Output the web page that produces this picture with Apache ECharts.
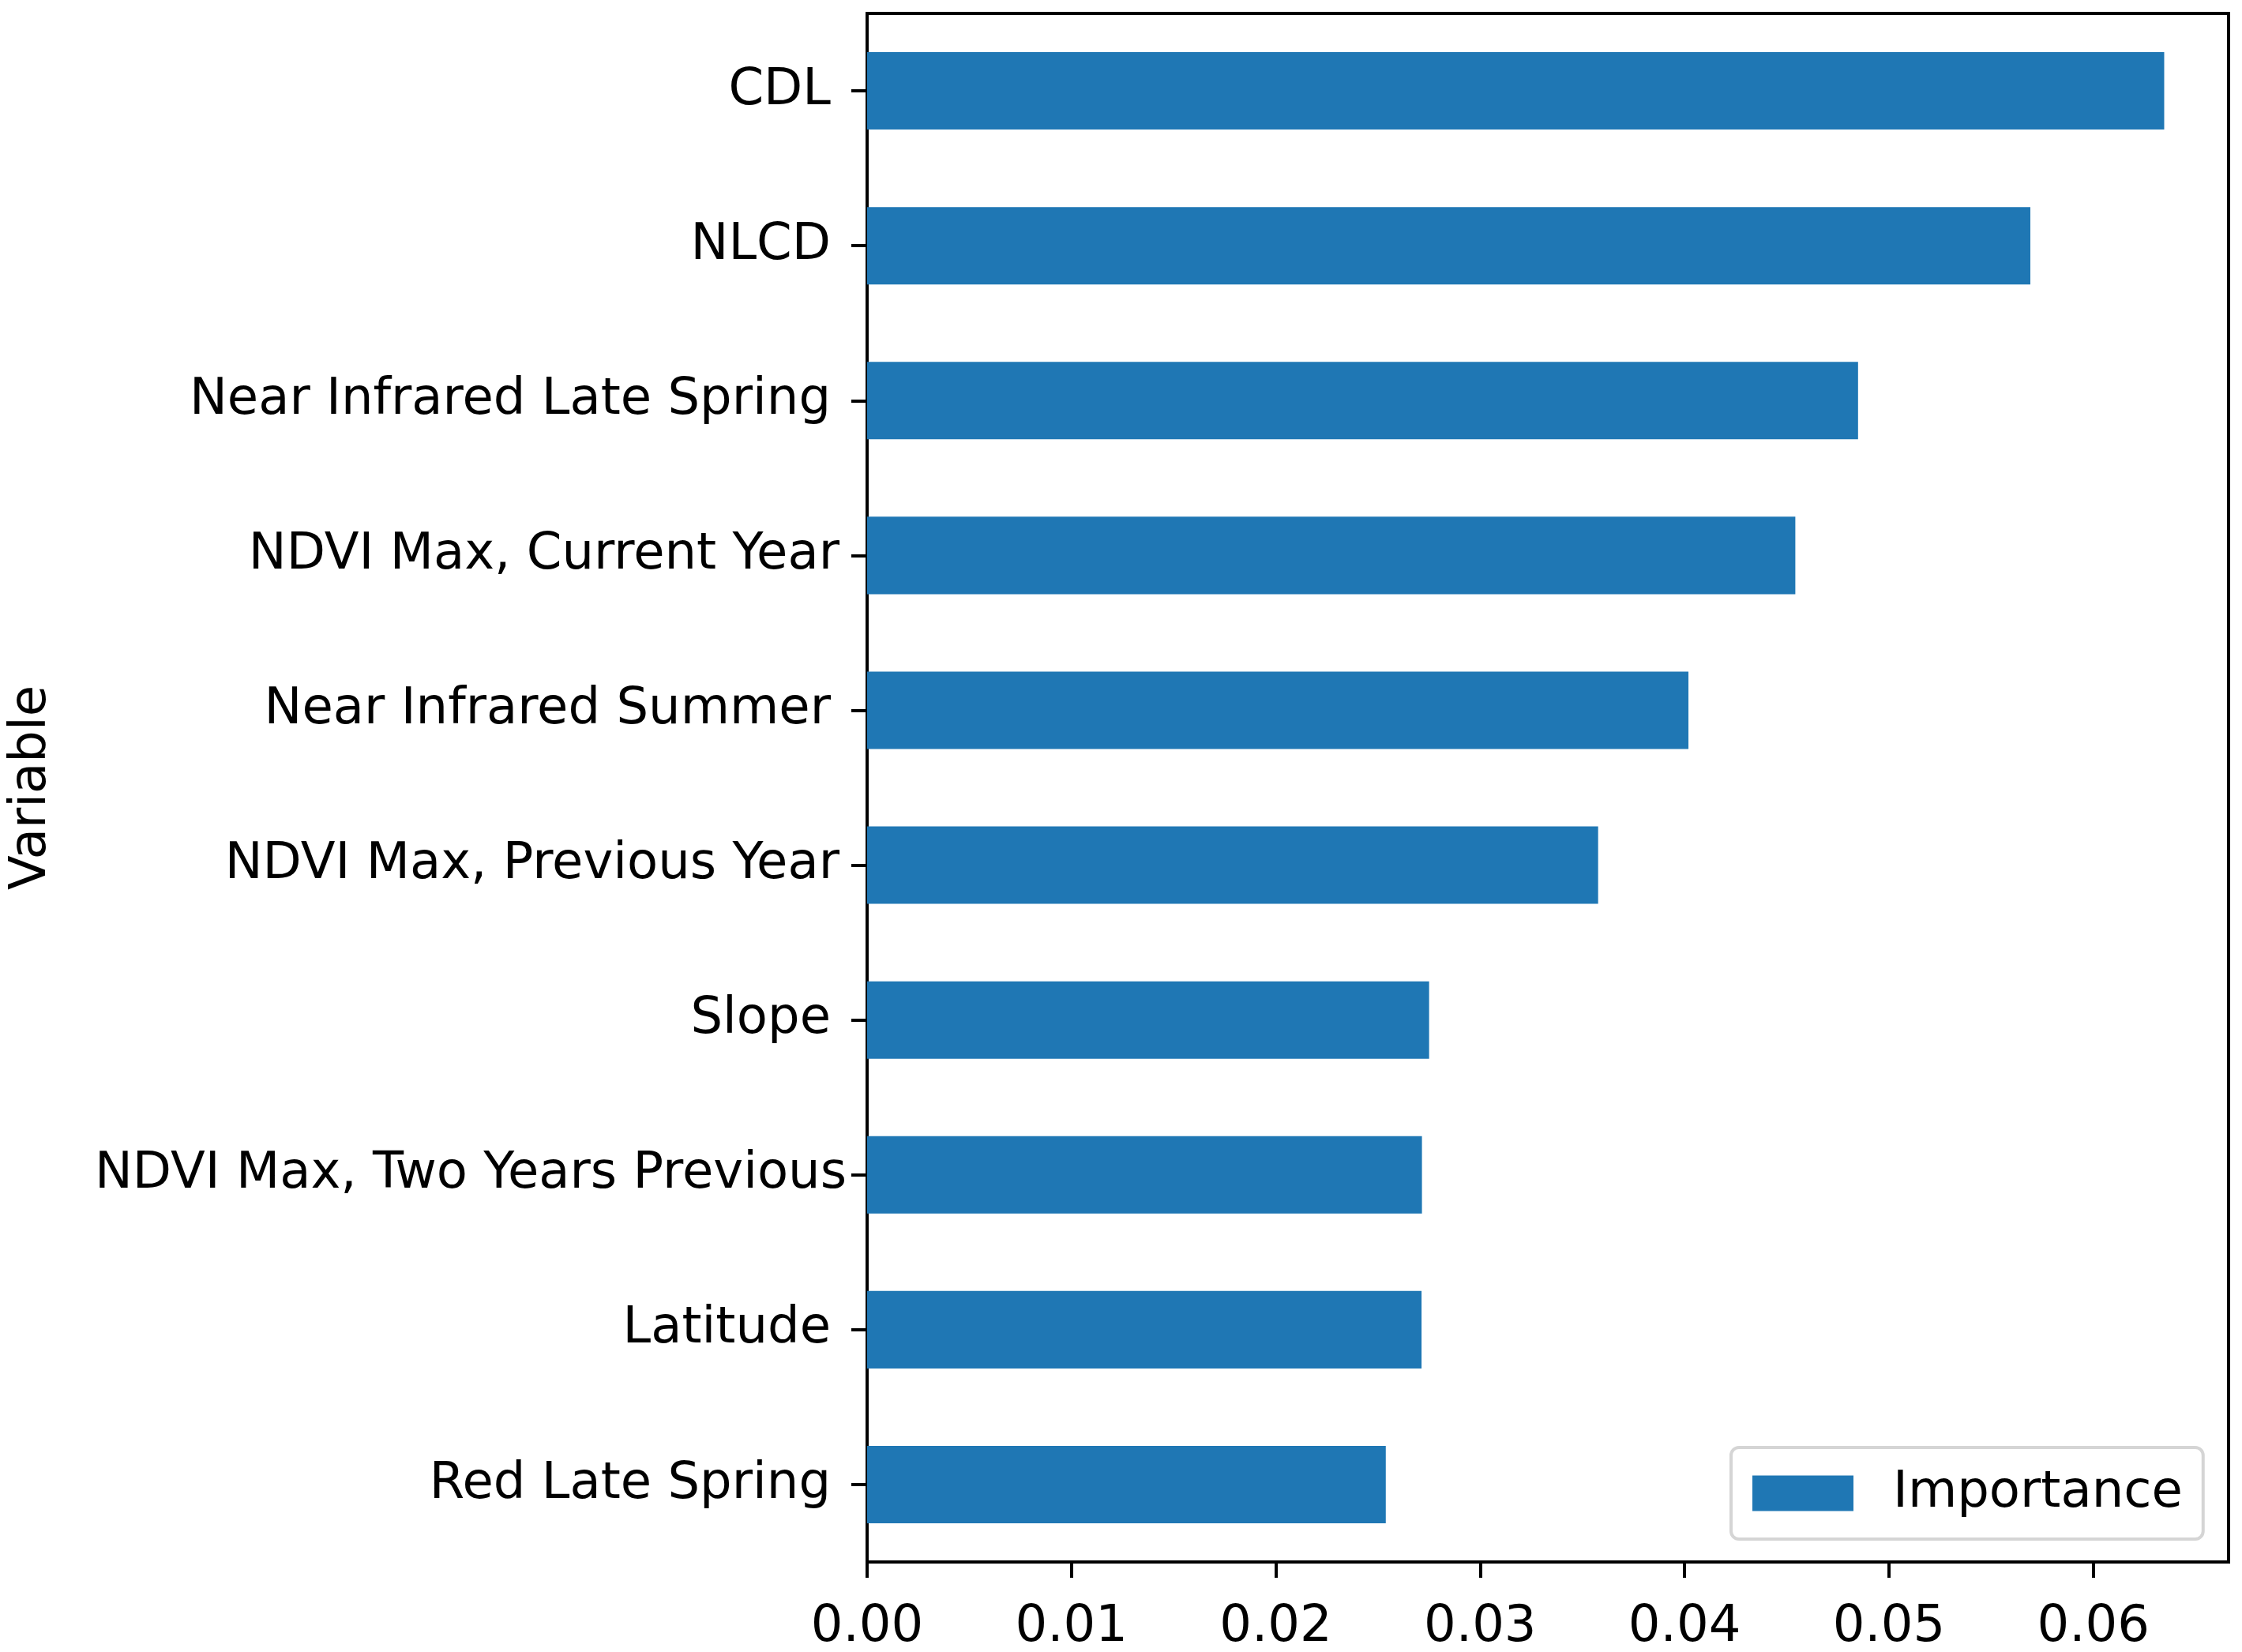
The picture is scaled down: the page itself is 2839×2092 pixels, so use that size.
<!DOCTYPE html>
<html>
<head>
<meta charset="utf-8">
<script src="https://cdn.jsdelivr.net/npm/echarts@6/dist/echarts.min.js"></script>
<style>
html,body{margin:0;padding:0;background:#fff;}
#chart{width:2839px;height:2092px;}
</style>
</head>
<body>
<div id="chart"></div>
<script>
// Categories, top to bottom
const categories = [
  "CDL",
  "NLCD",
  "Near Infrared Late Spring",
  "NDVI Max, Current Year",
  "Near Infrared Summer",
  "NDVI Max, Previous Year",
  "Slope",
  "NDVI Max, Two Years Previous",
  "Latitude",
  "Red Late Spring"
];
// Importance values
const importance = [0.06347, 0.05692, 0.04849, 0.04542, 0.04019, 0.03577, 0.02750, 0.02715, 0.02713, 0.02538];
// X tick labels
const xTicks = [0.00, 0.01, 0.02, 0.03, 0.04, 0.05, 0.06];
const xMax = 0.06662;
const seriesName = "Importance";
const yTitle = "Variable";

const FONT = "DejaVu Sans";
// small rightward shifts of some tick labels, as in the reference rendering
const labelShift = {
  "NDVI Max, Current Year": 11,
  "NDVI Max, Previous Year": 11,
  "NDVI Max, Two Years Previous": 20
};
const yData = categories.map(function (c) {
  const s = labelShift[c] || 0;
  return {value: c, textStyle: {padding: [6, -s, 0, 0]}};
});

const chart = echarts.init(document.getElementById("chart"), null, {renderer: "canvas"});
chart.setOption({
  animation: false,
  backgroundColor: "#ffffff",
  textStyle: {fontFamily: FONT},
  grid: {
    left: 1098, right: 17, top: 17, bottom: 114,
    outerBoundsMode: "none",
    containLabel: false,
    show: true, borderColor: "#000000", borderWidth: 4, backgroundColor: "transparent"
  },
  legend: {
    show: true,
    left: 2192, top: 1833,
    orient: "vertical",
    icon: "rect",
    itemWidth: 128, itemHeight: 45,
    padding: [26, 26, 26, 27],
    backgroundColor: "#ffffff",
    borderColor: "#d5d5d5", borderWidth: 4, borderRadius: 10,
    textStyle: {fontFamily: FONT, fontSize: 64, color: "#000000", padding: [0, 0, 0, 45], lineHeight: 64},
    data: [seriesName]
  },
  xAxis: {
    type: "value",
    min: 0, max: xMax,
    interval: 0.01,
    splitLine: {show: false},
    axisLine: {show: true, onZero: false, lineStyle: {color: "#000000", width: 4}},
    axisTick: {show: true, length: 20, lineStyle: {color: "#000000", width: 4}, customValues: xTicks},
    axisLabel: {
      show: true, margin: 51, fontFamily: FONT, fontSize: 64, color: "#000000",
      customValues: xTicks,
      formatter: function (v) { return Number(v).toFixed(2); }
    }
  },
  yAxis: {
    type: "category",
    inverse: true,
    data: yData,
    name: yTitle,
    nameLocation: "middle",
    nameRotate: 90,
    nameGap: 1026,
    nameTextStyle: {fontFamily: FONT, fontSize: 64, color: "#000000"},
    axisLine: {show: true, lineStyle: {color: "#000000", width: 4}},
    axisTick: {show: true, alignWithLabel: true, length: 20, lineStyle: {color: "#000000", width: 4}},
    axisLabel: {show: true, margin: 46, fontFamily: FONT, fontSize: 64, color: "#000000", padding: [6, 0, 0, 0]},
    splitLine: {show: false}
  },
  series: [{
    name: seriesName,
    type: "bar",
    data: importance,
    barCategoryGap: "50%",
    itemStyle: {color: "#1f77b4"}
  }]
});
</script>
</body>
</html>
